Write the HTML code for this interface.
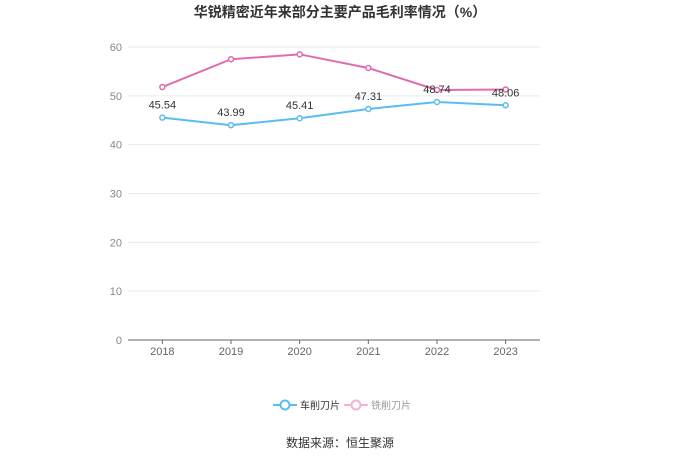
<!DOCTYPE html>
<html><head><meta charset="utf-8"><style>
body{margin:0;background:#fff;}
svg{display:block;font-family:"Liberation Sans","Noto Sans CJK SC",sans-serif;}
</style></head><body>
<svg id="c" width="680" height="460">
<text x="340" y="17" text-anchor="middle" font-size="14" font-weight="bold" fill="#333">华锐精密近年来部分主要产品毛利率情况（%）</text>
<g id="grid"></g><g id="series"></g>
<g>
<g><line x1="273" y1="405" x2="297" y2="405" stroke="#5bbcf2" stroke-width="2"/><circle cx="285" cy="405" r="4.5" fill="#fff" stroke="#5bbcf2" stroke-width="2"/><text x="300" y="409" font-size="10" fill="#333">车削刀片</text></g>
<g><line x1="344" y1="405" x2="368" y2="405" stroke="#f0b3d6" stroke-width="2"/><circle cx="356" cy="405" r="4.5" fill="#fff" stroke="#f0b3d6" stroke-width="2"/><text x="371" y="409" font-size="10" fill="#999">铣削刀片</text></g>
</g>
<text x="340" y="447" text-anchor="middle" font-size="12" fill="#333">数据来源：恒生聚源</text>
</svg>
<script>
const categories=["2018","2019","2020","2021","2022","2023"];
const turningValues=[45.54,43.99,45.41,47.31,48.74,48.06];
const millingValues=[51.8,57.5,58.5,55.7,51.2,51.3];
const yTicks=[0,10,20,30,40,50,60];
const NS="http://www.w3.org/2000/svg";
const x0=128,x1=540,y0=340,y1=47;
const xs=i=>x0+(x1-x0)/categories.length*(i+0.5);
const ys=v=>y0-(v/60)*(y0-y1);
function mk(t,a,p){const e=document.createElementNS(NS,t);for(const k in a)e.setAttribute(k,a[k]);p.appendChild(e);return e;}
const g=document.getElementById('grid'),s=document.getElementById('series');
yTicks.forEach(v=>{
 const l=mk('line',{x1:x0,x2:x1,y1:ys(v),y2:ys(v),stroke:v===0?'#666':'#e6e9f0','stroke-width':1},g);
 
 
 const t=mk('text',{x:x0-6,y:ys(v)+4,'text-anchor':'end','font-size':11,fill:'#888'},g);t.textContent=v;
 
 
});
categories.forEach((c,i)=>{
 const t=mk('text',{x:xs(i),y:y0+15,'text-anchor':'middle','font-size':11,fill:'#666'},g);t.textContent=c;
 
 
 const k=mk('line',{x1:xs(i),x2:xs(i),y1:y0,y2:y0+4,stroke:'#666'},g);
 
 
});
function draw(vals,color,name,labels){
 const p=mk('polyline',{points:vals.map((v,i)=>xs(i)+','+ys(v)).join(' '),fill:'none',stroke:color,'stroke-width':2},s);
 
 
 vals.forEach((v,i)=>{
  const c=mk('circle',{cx:xs(i),cy:ys(v),r:2.5,fill:'#fff',stroke:color,'stroke-width':1.5},s);
  
  
  if(labels){const t=mk('text',{x:xs(i),y:ys(v)-9,'text-anchor':'middle','font-size':11,fill:'#333'},s);t.textContent=v.toFixed(2);
  
  }
 });
}
draw(millingValues,'#e06cb0','milling',false);
draw(turningValues,'#5bbcf2','turning',true);
</script>
</body></html>
